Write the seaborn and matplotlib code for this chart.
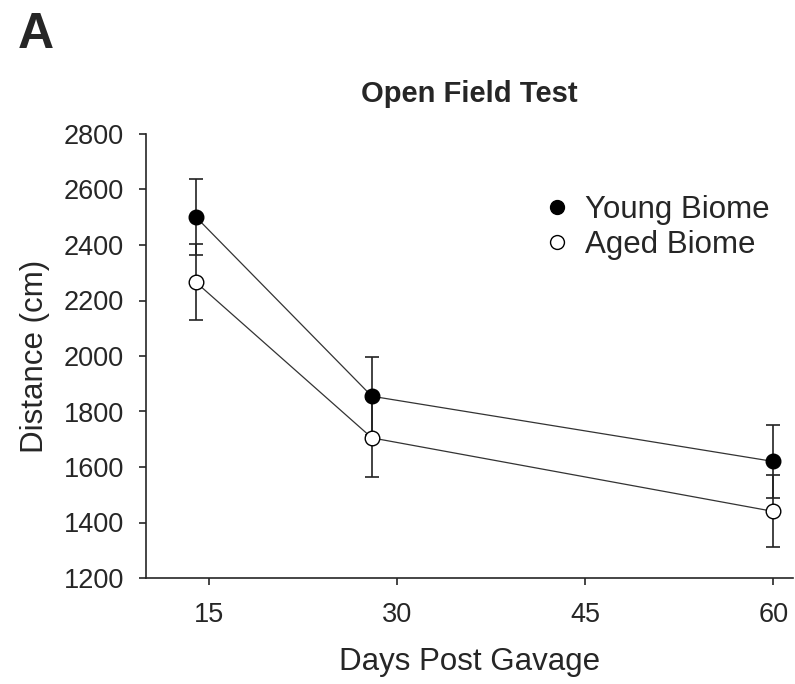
import numpy as np
import pandas as pd
import matplotlib
matplotlib.use("Agg")
import matplotlib.pyplot as plt
from matplotlib.lines import Line2D
import seaborn as sns

days = [14, 28, 60]
young = [2500, 1855, 1620]
young_err = [137, 140, 133]
aged = [2265, 1705, 1440]
aged_err = [137, 140, 130]
xticks = [15, 30, 45, 60]
yticks = [1200, 1400, 1600, 1800, 2000, 2200, 2400, 2600, 2800]

sns.set_style("ticks")
plt.rcParams['font.family'] = ['Liberation Sans', 'DejaVu Sans']

df = pd.DataFrame({
    "day": days * 2,
    "dist": young + aged,
    "err": young_err + aged_err,
    "group": ["Young Biome"] * 3 + ["Aged Biome"] * 3,
})

fig = plt.figure(figsize=(7.95, 6.84), dpi=100)
ax = fig.add_axes([146/795, 1 - 578/684, 1 - 146/795 - 0.002, (578 - 134)/684])

styles = {"Young Biome": "black", "Aged Biome": "white"}
for g, fc in styles.items():
    sub = df[df.group == g]
    ax.errorbar(sub.day, sub.dist, yerr=sub.err, fmt="none", ecolor="#222222",
                elinewidth=1.2, capsize=5, capthick=1.2, zorder=2)
    sns.lineplot(data=sub, x="day", y="dist", ax=ax, color="#333333", linewidth=0.9,
                 marker="o", markersize=10.5, markerfacecolor=fc,
                 markeredgecolor="black", markeredgewidth=1.0, zorder=3,
                 legend=False)

ax.set_xlim(10, 61.6)
ax.set_ylim(1200, 2800)
ax.set_xticks(xticks)
ax.set_yticks(yticks)
ax.tick_params(axis="both", direction="out", length=5, width=1.2, labelsize=19.5)
ax.tick_params(axis="y", pad=11)
ax.tick_params(axis="x", pad=12)
for s in ["left", "bottom"]:
    ax.spines[s].set_linewidth(1.2)
sns.despine(ax=ax)
ax.set_xlabel("Days Post Gavage", fontsize=22.5, labelpad=14)
ax.set_ylabel("Distance (cm)", fontsize=22.5, labelpad=10)
ax.set_title("Open Field Test", fontsize=21, fontweight="bold", pad=23)

handles = [Line2D([], [], linestyle="none", marker="o", markersize=10, markerfacecolor=styles[g],
                  markeredgecolor="black", label=g) for g in styles]
ax.legend(handles=handles, frameon=False, fontsize=22.5, loc="upper right",
          bbox_to_anchor=(1.007, 0.925), handletextpad=0.3, labelspacing=0.15, handlelength=1.2)

fig.text(18/795, 1 - 48/684, "A", fontsize=36, fontweight="bold")

fig.savefig("out.png", dpi=100)
